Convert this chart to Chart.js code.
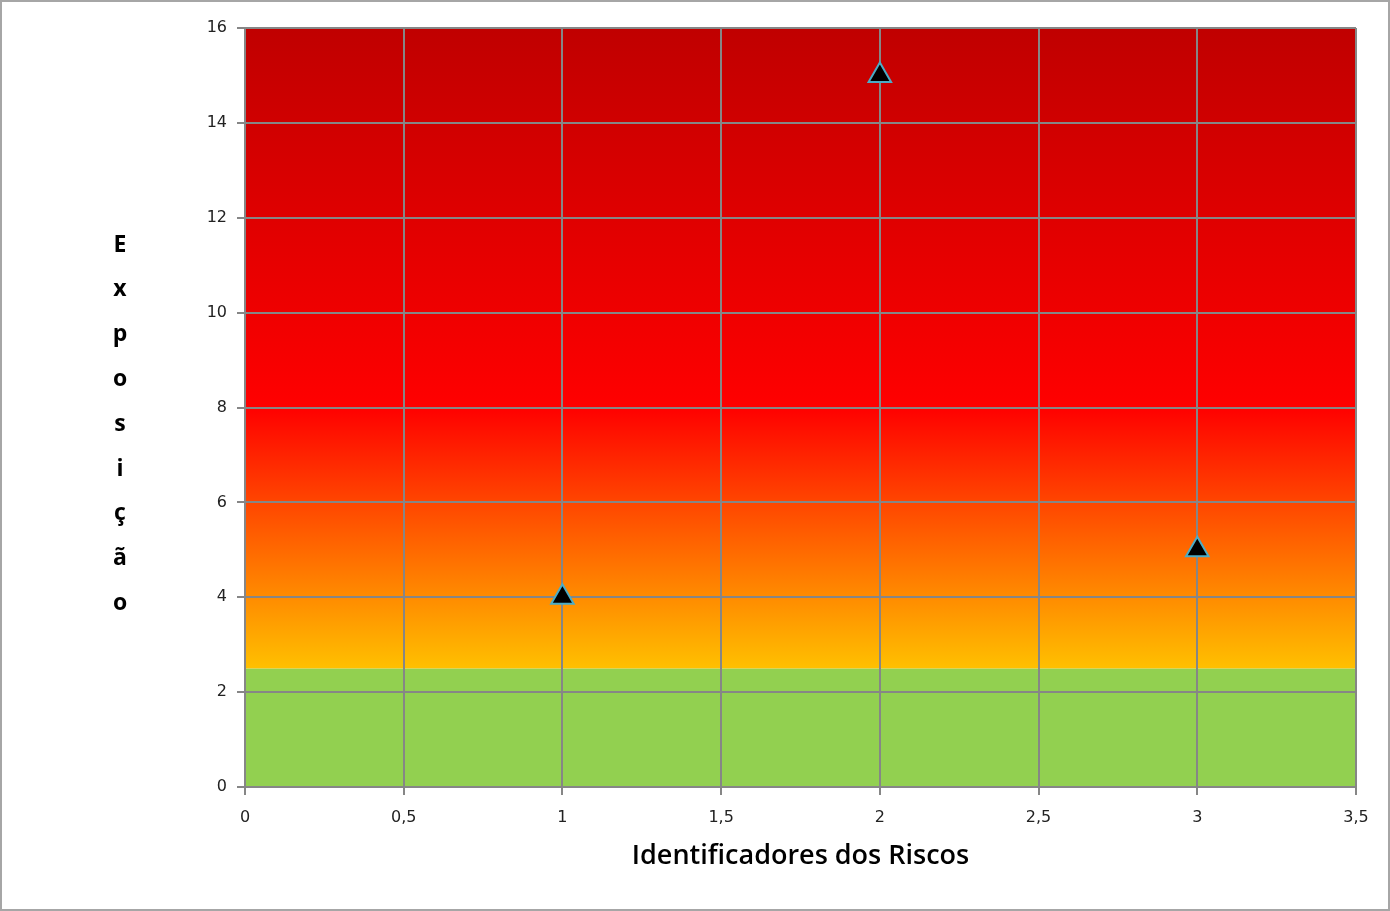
<!DOCTYPE html>
<html>
<head>
<meta charset="utf-8">
<script src="https://cdn.jsdelivr.net/npm/chart.js@4/dist/chart.umd.min.js"></script>
<style>
  body { margin: 0; background: #fff; }
  #wrap { width: 1390px; height: 911px; position: relative; }
</style>
</head>
<body>
<div id="wrap"><canvas id="grafico" width="1390" height="911"></canvas></div>
<script>
// dados do grafico
const riscos = [1, 2, 3];
const exposicao = [4, 15, 5];
const tituloX = 'Identificadores dos Riscos';
const tituloY = 'Exposição';

// faixa verde ate 2.5, depois degrade amarelo -> vermelho -> vermelho escuro
const limiteVerde = 2.5;
const pontosDegrade = [2.5, 8, 16];
const coresDegrade = ['#FFC000', '#FF0000', '#C00000'];

const pontos = riscos.map((r, i) => ({ x: r, y: exposicao[i] }));

const fundo = {
  id: 'fundo',
  beforeDraw(chart) {
    const { ctx, chartArea: a, scales: { y } } = chart;
    ctx.save();
    // borda externa
    ctx.strokeStyle = '#a6a6a6';
    ctx.lineWidth = 2;
    ctx.strokeRect(1, 1, chart.width - 2, chart.height - 2);
    const yVerde = y.getPixelForValue(limiteVerde);
    ctx.fillStyle = '#92D050';
    ctx.fillRect(a.left, yVerde, a.right - a.left, a.bottom - yVerde);
    const yTopo = y.getPixelForValue(pontosDegrade[pontosDegrade.length - 1]);
    const g = ctx.createLinearGradient(0, yVerde, 0, yTopo);
    for (let i = 0; i < pontosDegrade.length; i++) {
      const p = (y.getPixelForValue(pontosDegrade[i]) - yVerde) / (yTopo - yVerde);
      g.addColorStop(p, coresDegrade[i]);
    }
    ctx.fillStyle = g;
    ctx.fillRect(a.left, yTopo, a.right - a.left, yVerde - yTopo);
    ctx.restore();
  },
  afterDraw(chart) {
    const ctx = chart.ctx;
    ctx.save();
    ctx.fillStyle = '#000';
    ctx.font = 'bold 23px "Open Sans"';
    ctx.textAlign = 'center';
    ctx.textBaseline = 'middle';
    const letras = tituloY.split('');
    letras.forEach((l, i) => ctx.fillText(l, 120, 245 + i * 44.8));
    ctx.restore();
  }
};

const virgula = v => String(v).replace('.', ',');

new Chart(document.getElementById('grafico'), {
  type: 'scatter',
  data: {
    datasets: [{
      data: pontos,
      pointStyle: 'triangle',
      pointRadius: 13,
      pointHoverRadius: 13,
      backgroundColor: '#000',
      borderColor: '#4BACC6',
      borderWidth: 2
    }]
  },
  options: {
    responsive: false,
    animation: false,
    layout: { padding: { left: 0, top: 28, right: 34, bottom: 0 } },
    plugins: { legend: { display: false }, tooltip: { enabled: false } },
    scales: {
      x: {
        type: 'linear',
        min: 0, max: 3.5,
        afterFit(s) { s.height = 124; },
        ticks: { stepSize: 0.5, callback: virgula, color: '#222', padding: 13,
                 font: { family: 'DejaVu Sans', size: 16 }, maxRotation: 0 },
        grid: { color: '#868686', lineWidth: 2, tickLength: 8 },
        border: { color: '#868686', width: 2 },
        title: { display: true, text: tituloX, color: '#000',
                 font: { family: 'Open Sans', size: 27, weight: '600' },
                 padding: { top: 0, bottom: 38 } }
      },
      y: {
        min: 0, max: 16,
        afterFit(s) { s.width = 245; },
        ticks: { stepSize: 2, callback: virgula, color: '#222', padding: 10,
                 font: { family: 'DejaVu Sans', size: 16 } },
        grid: { color: '#868686', lineWidth: 2, tickLength: 8 },
        border: { color: '#868686', width: 2 }
      }
    }
  },
  plugins: [fundo]
});
</script>
</body>
</html>
